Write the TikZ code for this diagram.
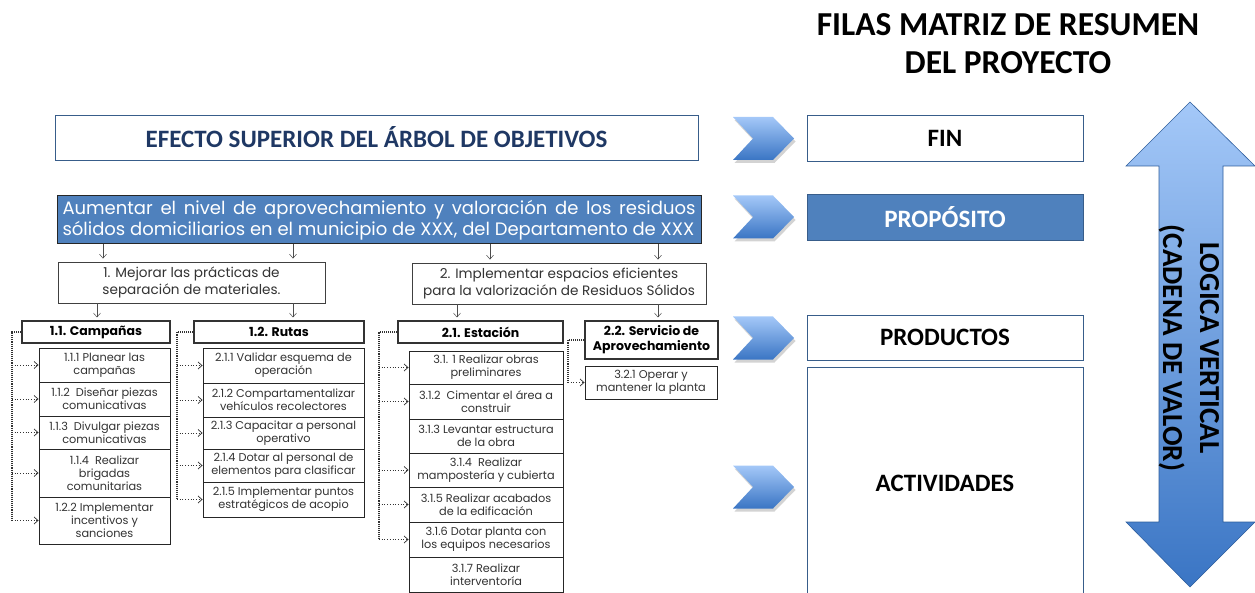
\documentclass[tikz,border=0pt]{standalone}
\usepackage{fontspec}
\setmainfont{Carlito}
\newfontfamily\gothic{Poppins}
\usetikzlibrary{arrows.meta,shadows,calc}
\definecolor{dblue}{HTML}{1F3864}
\definecolor{mblue}{HTML}{4F81BD}
\definecolor{bblue}{HTML}{385D8A}
\definecolor{lblue}{HTML}{A4C8F8}
\definecolor{kblue}{HTML}{3A75C4}
\definecolor{tgray}{HTML}{333333}
\begin{document}
\begin{tikzpicture}[x=1pt,y=-1pt,
  rbox/.style={draw=bblue, line width=0.9pt, fill=white, inner sep=0pt, font=\bfseries\fontsize{25}{30}\selectfont},
  tbox/.style={draw=black!75, line width=0.9pt, fill=white, inner sep=0pt, align=center, text=tgray, font=\gothic\fontsize{13.6}{17}\selectfont},
  hbox/.style={draw=black!80, line width=1.1pt, fill=white, inner sep=0pt, align=center, text=black, font=\gothic\bfseries\fontsize{12.5}{15}\selectfont},
  sbox/.style={draw=black!85, line width=0.9pt, fill=white, inner sep=0pt, align=center, text=tgray, font=\gothic\fontsize{11.3}{13.2}\selectfont},
  arr/.style={draw=black!70, line width=0.5pt, -{Straight Barb[length=4pt,width=7pt]}, shorten >=3pt},
  vline/.style={draw=black!80, line width=1.1pt, densely dotted},
  darr/.style={draw=black!80, line width=0.7pt, dotted, -{Straight Barb[length=4pt,width=7pt]}},
  chev/.style={top color=lblue, bottom color=kblue, draw=none, drop shadow={opacity=0.35, shadow xshift=1.5pt, shadow yshift=-3pt}}
]
\useasboundingbox (0,0) rectangle (1255,593);

% title
\node[font=\bfseries\fontsize{33.5}{38}\selectfont, align=center] (title) at (1008,44) {FILAS MATRIZ DE RESUMEN\\DEL PROYECTO};

% left top
\node[draw=bblue, line width=0.9pt, minimum width=643pt, minimum height=45pt, inner sep=0pt, text=dblue, font=\bfseries\fontsize{25}{30}\selectfont] (efecto) at (376.5,137.5) {EFECTO SUPERIOR DEL ÁRBOL DE OBJETIVOS};
\node[draw=black!85, fill=mblue, line width=1pt, minimum width=644pt, minimum height=48pt, inner sep=0pt, text=white, text width=633pt, align=justify, font=\gothic\fontsize{18}{21}\selectfont] (prop) at (379,220) {Aumentar el nivel de aprovechamiento y valoración de los residuos\linebreak sólidos domiciliarios en el municipio de XXX, del Departamento de XXX};

% level 1
\node[tbox, minimum width=267pt, minimum height=41pt] (o1) at (191.5,282.5) {1. Mejorar las prácticas de\\separación de materiales.};
\node[tbox, minimum width=294pt, minimum height=41pt] (o2) at (559,283.5) {2. Implementar espacios eficientes\\para la valorización de Residuos Sólidos};

% headers
\node[hbox, minimum width=148pt, minimum height=22pt] (h11) at (96,332) {1.1. Campañas};
\node[hbox, minimum width=170pt, minimum height=22pt] (h12) at (279,332) {1.2. Rutas};
\node[hbox, minimum width=165pt, minimum height=22pt] (h21) at (480.5,332) {2.1. Estación};
\node[hbox, minimum width=133pt, minimum height=38pt] (h22) at (651.5,340) {2.2. Servicio de\\Aprovechamiento};

% col 1
\node[sbox, minimum width=131pt, minimum height=34pt] (a1) at (104.5,365) {1.1.1 Planear las\\campañas};
\node[sbox, minimum width=131pt, minimum height=34pt] (a2) at (104.5,399) {1.1.2 \ Diseñar piezas\\comunicativas};
\node[sbox, minimum width=131pt, minimum height=33pt] (a3) at (104.5,432.5) {1.1.3 \ Divulgar piezas\\comunicativas};
\node[sbox, minimum width=131pt, minimum height=48pt] (a4) at (104.5,473) {1.1.4 \ Realizar\\brigadas\\comunitarias};
\node[sbox, minimum width=131pt, minimum height=47pt] (a5) at (104.5,520.5) {1.2.2 Implementar\\incentivos y\\sanciones};

% col 2
\node[sbox, minimum width=161pt, minimum height=35pt] (b1) at (283.5,365.5) {2.1.1 Validar esquema de\\operación};
\node[sbox, minimum width=161pt, minimum height=34pt] (b2) at (283.5,400) {2.1.2 Compartamentalizar\\vehículos recolectores};
\node[sbox, minimum width=161pt, minimum height=32pt] (b3) at (283.5,433) {2.1.3 Capacitar a personal\\operativo};
\node[sbox, minimum width=161pt, minimum height=33pt] (b4) at (283.5,465.5) {2.1.4 Dotar al personal de\\elementos para clasificar};
\node[sbox, minimum width=161pt, minimum height=35pt] (b5) at (283.5,499.5) {2.1.5 Implementar puntos\\estratégicos de acopio};

% col 3
\node[sbox, minimum width=154pt, minimum height=33pt] (c1) at (486,367.5) {3.1. 1 Realizar obras\\preliminares};
\node[sbox, minimum width=154pt, minimum height=35pt] (c2) at (486,401.5) {3.1.2 \ Cimentar el área a\\construir};
\node[sbox, minimum width=154pt, minimum height=34pt] (c3) at (486,436) {3.1.3 Levantar estructura\\de la obra};
\node[sbox, minimum width=154pt, minimum height=34pt] (c4) at (486,470) {3.1.4 \ Realizar\\mampostería y cubierta};
\node[sbox, minimum width=154pt, minimum height=35pt] (c5) at (486,504.5) {3.1.5 Realizar acabados\\de la edificación};
\node[sbox, minimum width=154pt, minimum height=35pt] (c6) at (486,539.5) {3.1.6 Dotar planta con\\los equipos necesarios};
\node[sbox, minimum width=154pt, minimum height=35pt] (c7) at (486,574.5) {3.1.7 Realizar\\interventoría};

% col 4
\node[sbox, minimum width=132pt, minimum height=33pt] (d1) at (651,382.5) {3.2.1 Operar y\\mantener la planta};

% solid arrows
\coordinate (x1) at (103,0);
\coordinate (x2) at (293,0);
\coordinate (x3) at (490,0);
\coordinate (x4) at (658,0);
\coordinate (x5) at (97,0);
\coordinate (x6) at (457,0);
\draw[arr] (prop.south -| x1) -- (o1.north -| x1);
\draw[arr] (prop.south -| x2) -- (o1.north -| x2);
\draw[arr] (prop.south -| x3) -- (o2.north -| x3);
\draw[arr] (prop.south -| x4) -- (o2.north -| x4);
\draw[arr] (o1.south -| x5) -- (h11.north -| x5);
\draw[arr] (o1.south -| x2) -- (h12.north -| x2);
\draw[arr] (o2.south -| x6) -- (h21.north -| x6);
\draw[arr] (o2.south -| x4) -- (h22.north -| x4);

% dotted connectors
\coordinate (v1) at (12,0);
\coordinate (v2) at (177,0);
\coordinate (v3) at (379,0);
\coordinate (v4) at (568,0);
\draw[vline] (h11.west) -- (h11.west -| v1) -- (a5.west -| v1);
\foreach \n in {a1,a2,a3,a4,a5} \draw[darr] (\n.west -| v1) -- (\n.west);
\draw[vline] (h12.west) -- (h12.west -| v2) -- (b5.west -| v2);
\foreach \n in {b1,b2,b3,b4,b5} \draw[darr] (\n.west -| v2) -- (\n.west);
\draw[vline] (h21.west) -- (h21.west -| v3) -- (c6.west -| v3);
\foreach \n in {c1,c2,c4,c5,c6} \draw[darr] (\n.west -| v3) -- (\n.west);
\draw[vline] (h22.west) -- (h22.west -| v4) -- (d1.west -| v4);
\draw[darr] (d1.west -| v4) -- (d1.west);

% chevrons
\foreach \cy in {138.5,217,338,487} {
  \shade[chev] (733,\cy-21.5) -- (773,\cy-21.5) -- (794,\cy) -- (773,\cy+21.5) -- (733,\cy+21.5) -- (753,\cy) -- cycle;
}

% right boxes
\node[rbox, minimum width=276pt, minimum height=46pt] (fin) at (945,138) {FIN};
\node[rbox, fill=mblue, text=white, minimum width=276pt, minimum height=46pt] (proposito) at (945,217) {PROPÓSITO};
\node[rbox, minimum width=276pt, minimum height=45pt] (productos) at (945,337.5) {PRODUCTOS};
\node[rbox, minimum width=276pt, minimum height=232pt] (actividades) at (945,483) {ACTIVIDADES};

% double arrow
\shade[top color=lblue, bottom color=kblue, draw=kblue!80!black, line width=0.6pt]
  (1190,102) -- (1255,166) -- (1223,166) -- (1223,522) -- (1255,522) -- (1190,587)
  -- (1126,522) -- (1159,522) -- (1159,166) -- (1126,166) -- cycle;
\node[rotate=-90, align=center, font=\bfseries\fontsize{29}{37}\selectfont] (logica) at (1189,348) {LOGICA VERTICAL\\(CADENA DE VALOR)};
\end{tikzpicture}
\end{document}
